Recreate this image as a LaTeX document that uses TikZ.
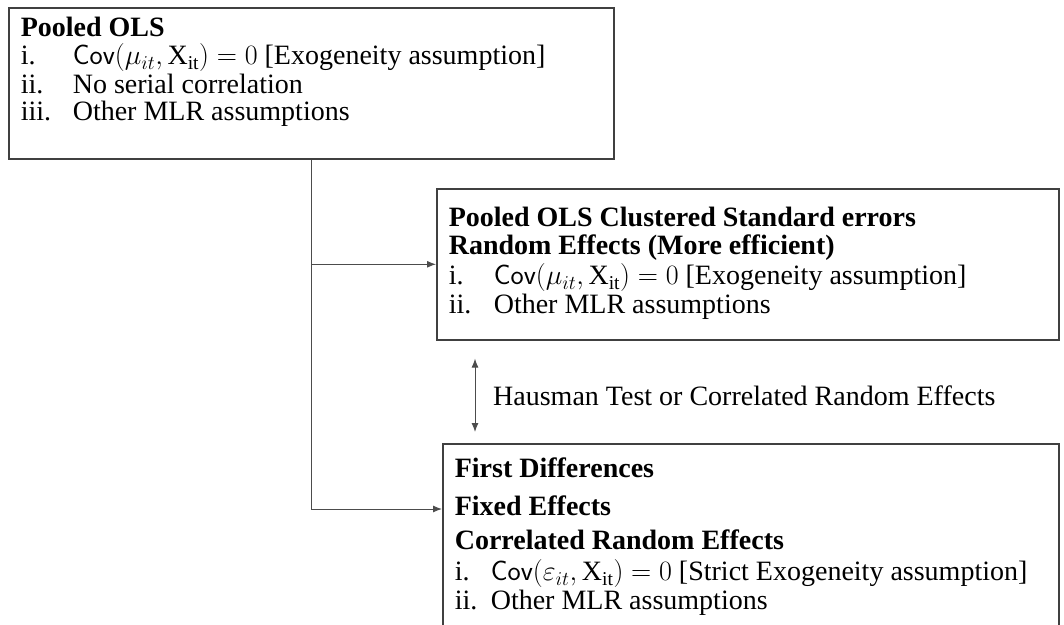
\RequirePackage{fix-cm}
\documentclass[tikz,border=0pt]{standalone}
\usepackage{fontspec}
\setmainfont{Liberation Serif}
\usetikzlibrary{arrows.meta,calc}

\newcommand{\lbl}[2][52pt]{\makebox[#1][l]{#2}}
\newcommand{\boxtext}[3]{\parbox[t][#2][t]{#1}{\raggedright #3}}
\newcommand{\cov}[1]{$\mathsf{Cov}(#1_{it},\mathrm{X}_{\mathrm{it}})=0$}

\tikzset{
    modelbox/.style={draw=black!75, line width=1.6pt, anchor=north west,
        inner xsep=12pt, inner ysep=0pt},
    link/.style={draw=black!70, line width=1pt},
}

\begin{document}
\begin{tikzpicture}[x=1pt, y=1pt, >={Latex[length=9pt,width=7pt]},
    every node/.style={font=\fontsize{28}{28}\selectfont}]
    \useasboundingbox (0,0) rectangle (1064,-624);

    % the three models
    \node[modelbox] (pols) at (8,-7) {\boxtext{581pt}{151pt}{%
        \rule{0pt}{29pt}\textbf{Pooled OLS}\\
        \lbl{i.}\cov{\mu} [Exogeneity assumption]\\[1pt]
        \lbl{ii.}No serial correlation\\[-1pt]
        \lbl{iii.}Other MLR assumptions}};
    \node[modelbox] (clus) at (436,-188) {\boxtext{598pt}{151pt}{%
        \rule{0pt}{38pt}\textbf{Pooled OLS Clustered Standard errors}\\
        \textbf{Random Effects (More efficient)}\\[2pt]
        \lbl[45pt]{i.}\cov{\mu} [Exogeneity assumption]\\[1pt]
        \lbl[45pt]{ii.}Other MLR assumptions}};
    \node[modelbox] (fdfe) at (442,-443) {\boxtext{592pt}{190pt}{%
        \rule{0pt}{34pt}\textbf{First Differences}\\[10pt]
        \textbf{Fixed Effects}\\[6pt]
        \textbf{Correlated Random Effects}\\[3pt]
        \lbl[36pt]{i.}\cov{\varepsilon} [Strict Exogeneity assumption]\\[1pt]
        \lbl[36pt]{ii.}Other MLR assumptions}};

    % connectors
    \coordinate (fdIn) at ([yshift=-66pt]fdfe.north west);
    \draw[link,->] (pols.south) |- (clus.west);
    \draw[link,->] (pols.south) |- (fdIn);

    \coordinate (hTop) at ([xshift=39pt,yshift=-18pt]clus.south west);
    \coordinate (hBot) at ($(hTop |- fdfe.north)+(0,11)$);
    \draw[link,<->] (hTop) -- (hBot);
    \node[anchor=west, inner sep=0pt] (haus) at ($(hTop)!0.5!(hBot)+(18,0)$)
        {Hausman Test or Correlated Random Effects};
\end{tikzpicture}
\end{document}
